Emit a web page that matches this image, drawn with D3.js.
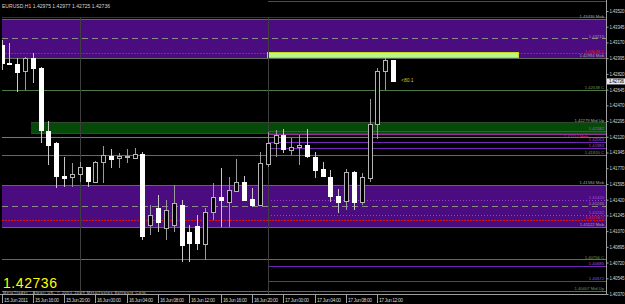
<!DOCTYPE html>
<html>
<head>
<meta charset="utf-8">
<script src="https://cdn.jsdelivr.net/npm/d3@7"></script>
<style>
  body { margin: 0; background: #000; }
  svg { display: block; }
  text { font-family: "Liberation Sans", Arial, sans-serif; }
</style>
</head>
<body>
<svg id="chart" width="625" height="304"></svg>
<script>
// EURUSD H1 bars, 15 Jun 2011 12:00 -> 17 Jun 2011 14:00
const barOpen  = [1.43142,1.42941,1.42930,1.42844,1.42994,1.42882,1.42188,1.42047,1.41687,1.41669,
                  1.41702,1.41780,1.41620,1.41843,1.41909,1.41876,1.41892,1.41892,1.41928,1.41138,
                  1.41327,1.41105,1.41138,1.41361,1.41060,1.41127,1.40934,1.41286,1.41446,1.41397,
                  1.41520,1.41620,1.41427,1.41361,1.41825,1.42054,1.42140,1.41973,1.42003,1.42028,
                  1.41898,1.41758,1.41676,1.41464,1.41397,1.41725,1.41386,1.41665,1.42262,1.42852,
                  1.42975];
const barHigh  = [1.43197,1.43160,1.42997,1.43005,1.43049,1.42893,1.42296,1.42065,1.41898,1.41831,
                  1.41843,1.41787,1.41845,1.42017,1.41981,1.41936,1.41984,1.41998,1.41951,1.41361,
                  1.41472,1.41416,1.41583,1.41416,1.41138,1.41249,1.41327,1.41602,1.41769,1.41669,
                  1.41869,1.41683,1.41547,1.41954,1.42177,1.42195,1.42203,1.42103,1.42140,1.42203,
                  1.41947,1.41843,1.41750,1.41535,1.41758,1.41742,1.41713,1.42537,1.42882,1.42994,
                  1.42977];
const barLow   = [1.42863,1.42919,1.42622,1.42641,1.42715,1.42051,1.41806,1.41547,1.41564,1.41564,
                  1.41620,1.41564,1.41618,1.41602,1.41769,1.41769,1.41825,1.41880,1.40971,1.41027,
                  1.41060,1.40971,1.41060,1.40726,1.40726,1.40860,1.40748,1.41194,1.41119,1.41119,
                  1.41509,1.41416,1.41342,1.41350,1.41787,1.41898,1.41936,1.41917,1.41806,1.41880,
                  1.41658,1.41669,1.41397,1.41268,1.41305,1.41305,1.41361,1.41620,1.42092,1.42641,
                  1.42725];
const barClose = [1.42941,1.42930,1.42838,1.42994,1.42882,1.42188,1.42028,1.41676,1.41661,1.41706,
                  1.41780,1.41620,1.41843,1.41917,1.41876,1.41903,1.41903,1.41932,1.41016,1.41249,
                  1.41171,1.41305,1.41383,1.40915,1.40938,1.40938,1.41286,1.41453,1.41408,1.41528,
                  1.41620,1.41424,1.41361,1.41825,1.42054,1.42140,1.41981,1.42003,1.42028,1.41906,
                  1.41750,1.41683,1.41464,1.41394,1.41725,1.41391,1.41669,1.42262,1.42856,1.42975,
                  1.42736];

const priceTicks = [1.43520,1.43345,1.43170,1.42995,1.42820,1.42645,1.42470,1.42295,1.42120,1.41945,
                    1.41770,1.41595,1.41420,1.41245,1.41070,1.40895,1.40720,1.40545,1.40370];
const timeLabels = ["15 Jun 2011","15 Jun 16:00","15 Jun 20:00","16 Jun 00:00","16 Jun 04:00",
                    "16 Jun 08:00","16 Jun 12:00","16 Jun 16:00","16 Jun 20:00","17 Jun 00:00",
                    "17 Jun 04:00","17 Jun 08:00","17 Jun 12:00"];

// supply / demand zones
const zoneHigh  = [1.43436, 1.42279, 1.41584];
const zoneLow   = [1.42994, 1.42162, 1.41116];
const zoneKind  = ["sell", "buy", "sell"];
const zoneFrom  = [null, new Date(2011,5,15,16), null];
const zoneText  = [["1.43436  Mob","1.42994  Mob"], ["1.42279  Mid Up",""], ["1.41584  Mob","1.41122  Mob"]];

// horizontal levels
const levelPrice = [1.43215, 1.43048, 1.42638, 1.42184, 1.42151, 1.42118, 1.42062, 1.41995, 1.41920,
                    1.41416, 1.41350, 1.41249, 1.41194, 1.40756, 1.40682, 1.40512, 1.40407];
const levelKind  = ["mid","red","c","pivot","pink","orange","pivot","pivot","c",
                    "dot","mid","dot","red","c","pivot","pivot","c"];
const levelText  = ["1.43215","1.43048  C","1.42638  C","1.42182","1.42114  Mnb","","1.42063","1.41983","1.41920  C",
                    "1.41420","1.41246","1.41242","1.41194  C","1.40756  C","1.40685","1.40572","1.40407  Mid Up"];
const levelFrom  = [null,null,null,"d","d",null,"d","d",null,"d",null,"d",null,null,"d","d",null];

// target box drawn by the user
const boxHigh = 1.43062, boxLow = 1.43006;
const boxFrom = new Date(2011,5,16,22), boxTo = new Date(2011,5,18,6);
const dayBreaks = [new Date(2011,5,15,22), new Date(2011,5,16,22)];

const title = "EURUSD,H1  1.42975 1.42977 1.42725 1.42736";
const lastPrice = 1.42736;

const W = 625, H = 304;
const plotL = 2, plotR = 606, plotT = 0, plotB = 294.5;

const times = d3.timeHour.range(new Date(2011,5,15,12), new Date(2011,5,17,15));
const bars = times.map((t, i) => ({t, o: barOpen[i], h: barHigh[i], l: barLow[i], c: barClose[i]}));

const x = d3.scaleTime()
  .domain([new Date(2011,5,15,12), new Date(2011,5,17,14)])
  .range([1.5, 393]);
const y = d3.scaleLinear()
  .domain([1.40370, 1.43520])
  .range([294, 11]);

const svg = d3.select("#chart");
svg.append("rect").attr("width", W).attr("height", H).attr("fill", "#000");

const plot = svg.append("g").attr("shape-rendering", "crispEdges");
svg.append("defs").append("clipPath").attr("id", "clip")
  .append("rect").attr("x", plotL).attr("y", plotT).attr("width", plotR - plotL).attr("height", plotB - plotT);
plot.attr("clip-path", "url(#clip)");

const zoneFill = {sell: "#4b0c80", buy: "#064a0a"};
const zoneEdge = {sell: "#5e6a5e", buy: "#2e4a2e"};

// zones
zoneHigh.forEach((hi, i) => {
  const x0 = zoneFrom[i] ? x(zoneFrom[i]) - 2 : plotL;
  const y0 = Math.round(y(hi)) + 0.5, y1 = Math.round(y(zoneLow[i])) + 0.5;
  plot.append("rect").attr("x", x0).attr("y", y0).attr("width", plotR - x0).attr("height", y1 - y0)
    .attr("fill", zoneFill[zoneKind[i]]);
  [y0, y1].forEach(yy => plot.append("line").attr("x1", x0).attr("x2", plotR).attr("y1", yy).attr("y2", yy)
    .attr("stroke", zoneEdge[zoneKind[i]]));
});

// top frame line
plot.append("line").attr("x1", plotL).attr("x2", plotR).attr("y1", 17.5).attr("y2", 17.5).attr("stroke", "#2c3a2c");
plot.append("line").attr("x1", x(dayBreaks[1])).attr("x2", plotR).attr("y1", 1.5).attr("y2", 1.5).attr("stroke", "#6a2aa8");

// levels
const levelStyle = {
  mid:    {stroke: "#8a8a8a", dash: "6,4"},
  red:    {stroke: "#d01818", dash: "2,1"},
  c:      {stroke: "#4e7a46", dash: null},
  pivot:  {stroke: "#7426b8", dash: null},
  pink:   {stroke: "#9a2aa0", dash: null},
  orange: {stroke: "#c86010", dash: null},
  dot:    {stroke: "#8a44d0", dash: "1,2"}
};
const levelLabelColor = {mid: "#9a9a9a", red: "#e02020", c: "#6a9a5a", pivot: "#9a55e8", pink: "#e0307a", orange: "#c86010", dot: "#9a55e8"};

levelPrice.forEach((p, i) => {
  const st = levelStyle[levelKind[i]];
  const x0 = levelFrom[i] ? x(dayBreaks[1]) : plotL;
  const yy = Math.round(y(p)) + 0.5;
  plot.append("line").attr("x1", x0).attr("x2", plotR).attr("y1", yy).attr("y2", yy)
    .attr("stroke", st.stroke).attr("stroke-dasharray", st.dash);
});

// box
plot.append("rect")
  .attr("x", x(boxFrom)).attr("y", y(boxHigh))
  .attr("width", x(boxTo) - x(boxFrom)).attr("height", y(boxLow) - y(boxHigh))
  .attr("fill", "#b8f888").attr("stroke", "#c8d820");

// day separators
dayBreaks.forEach(d => {
  const xx = Math.round(x(d)) + 0.5;
  plot.append("line").attr("x1", xx).attr("x2", xx).attr("y1", 17).attr("y2", plotB)
    .attr("stroke", "#3e3e3e");
});

// candles
const bw = 5;
const candle = plot.selectAll("g.bar").data(bars).join("g").attr("class", "bar");
candle.append("line")
  .attr("x1", d => Math.round(x(d.t)) + 0.5).attr("x2", d => Math.round(x(d.t)) + 0.5)
  .attr("y1", d => y(d.h)).attr("y2", d => y(d.l))
  .attr("stroke", d => d.c >= d.o ? "#9a9a9a" : "#c8c8c8");
candle.append("rect")
  .attr("x", d => Math.round(x(d.t)) - 2 + 0.5)
  .attr("y", d => Math.round(y(Math.max(d.o, d.c))) + 0.5)
  .attr("width", bw - 1)
  .attr("height", d => Math.max(1, Math.round(Math.abs(y(d.o) - y(d.c)))))
  .attr("fill", d => d.c >= d.o ? "#000" : "#fff")
  .attr("stroke", d => d.c >= d.o ? "#b4b4b4" : "#fff");

// level / zone labels on the right
const lab = svg.append("g").attr("font-size", 4.2).attr("text-anchor", "end");
levelPrice.forEach((p, i) => {
  if (!levelText[i]) return;
  // the pink label sits just under its line where the stacked labels crowd
  const dy = levelKind[i] === "pink" ? 4.2 : -0.8;
  lab.append("text").attr("x", levelKind[i] === "pink" ? 588 : 604).attr("y", y(p) + dy)
    .attr("fill", levelLabelColor[levelKind[i]]).text(levelText[i]);
});
zoneHigh.forEach((hi, i) => {
  const col = zoneKind[i] === "sell" ? "#a0a0a0" : "#9ab89a";
  if (zoneText[i][0]) lab.append("text").attr("x", 604).attr("y", y(hi) - 0.8).attr("fill", col).text(zoneText[i][0]);
  if (zoneText[i][1]) lab.append("text").attr("x", 604).attr("y", y(zoneLow[i]) - 0.8).attr("fill", col).text(zoneText[i][1]);
});

// price axis
const yAxis = d3.axisRight(y).tickValues(priceTicks).tickSize(2).tickPadding(1).tickFormat(d3.format(".5f"));
const ya = svg.append("g").attr("transform", `translate(${plotR + 0.5},0)`).call(yAxis);
ya.select(".domain").attr("stroke", "#a0a0a0").attr("d", `M0,0V${plotB}`);
ya.selectAll("line").attr("stroke", "#a0a0a0");
ya.selectAll("text").attr("fill", "#d0d0d0").attr("font-size", 4.5).attr("textLength", 15)
  .attr("font-family", "Liberation Sans, Arial, sans-serif");

// last price tag
svg.append("rect").attr("x", 607).attr("y", y(lastPrice) - 3).attr("width", 18).attr("height", 6).attr("fill", "#e8e8e8");
svg.append("text").attr("x", 609).attr("y", y(lastPrice) + 1.8).attr("font-size", 4.5).attr("textLength", 15)
  .attr("fill", "#000").text(d3.format(".5f")(lastPrice));

// time axis
const timeTicks = d3.timeHour.every(4).range(new Date(2011,5,15,12), new Date(2011,5,17,13));
svg.append("line").attr("x1", 0).attr("x2", plotR + 1).attr("y1", plotB).attr("y2", plotB).attr("stroke", "#a0a0a0");
const xa = svg.append("g");
timeTicks.forEach((t, i) => {
  const xx = Math.round(x(t)) + 0.5;
  xa.append("line").attr("x1", xx).attr("x2", xx).attr("y1", plotB).attr("y2", 303).attr("stroke", "#a0a0a0");
  xa.append("text").attr("x", xx + 1.5).attr("y", 302).attr("font-size", 5).attr("fill", "#d0d0d0")
    .attr("textLength", 24).text(timeLabels[i]);
});

// texts
svg.append("text").attr("x", 2).attr("y", 7.5).attr("font-size", 5).attr("fill", "#d8d8d8")
  .attr("textLength", 108).text(title);
svg.append("text").attr("x", 3).attr("y", 287.5).attr("font-size", 14).attr("fill", "#ffff00")
  .attr("textLength", 54).text(d3.format(".5f")(lastPrice));
svg.append("text").attr("x", 3).attr("y", 293.6).attr("font-size", 3.8).attr("fill", "#c8c8c8")
  .attr("textLength", 144).text("MetaTrader - Alpari UK, © 2001-2009 MetaQuotes Software Corp.");
svg.append("text").attr("x", x(times[50]) + 8).attr("y", y(lastPrice) + 1).attr("font-size", 5)
  .attr("fill", "#c8c820").text("<80.1");
</script>
</body>
</html>
